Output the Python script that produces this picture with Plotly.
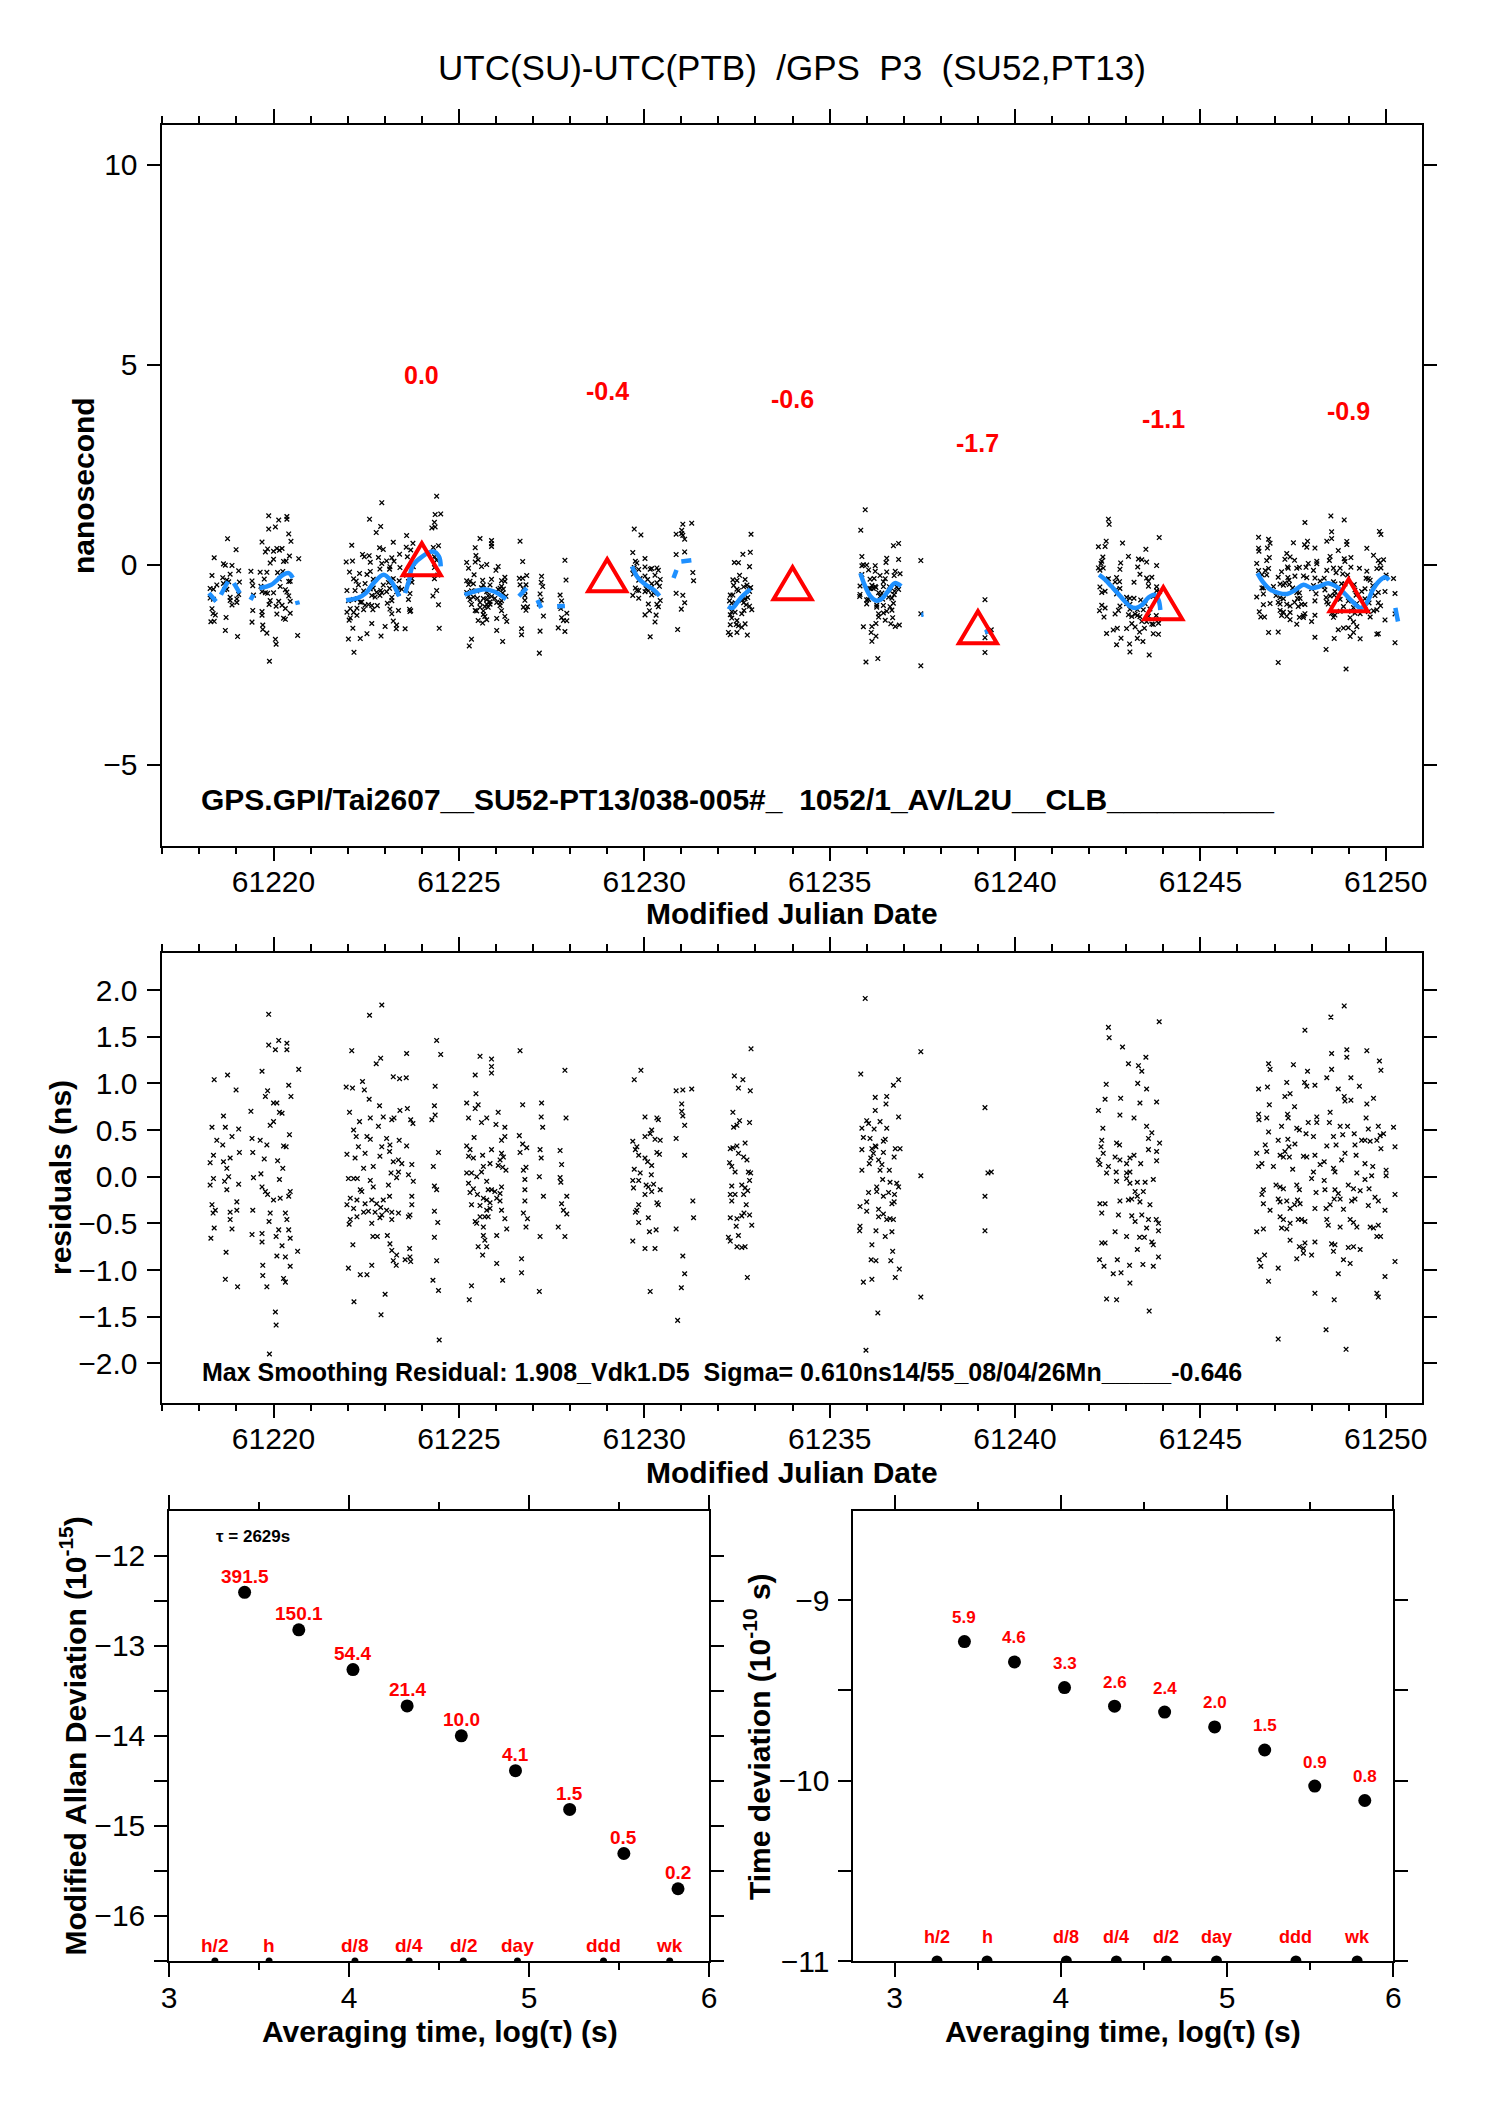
import numpy as np
import plotly.graph_objects as go

FONT = "Liberation Sans, Arial, Helvetica, sans-serif"
W, H = 1488, 2105

# ---------------- residuals (MJD, ns) per data cluster ----------------
res_a = [[61219.87,1.74],[61219.87,1.41],[61220.05,1.36],[61220.14,1.46],[61220.36,1.43],[61220.36,1.36],[61219.69,1.13],[61220.68,1.15],[61218.40,1.04],[61218.76,1.09],[61218.99,0.93],[61219.84,0.92],[61219.78,0.86],[61220.41,0.98],[61220.47,0.86],[61220.00,0.79],[61220.09,0.79],[61220.16,0.69],[61220.23,0.68],[61219.39,0.70],[61218.65,0.65],[61219.91,0.55],[61220.00,0.59],[61218.34,0.53],[61218.70,0.53],[61218.88,0.43],[61219.06,0.51],[61218.47,0.39],[61218.63,0.34],[61219.42,0.41],[61219.64,0.39],[61219.82,0.34],[61220.27,0.33],[61220.34,0.32],[61220.43,0.45],[61219.08,0.26],[61219.44,0.26],[61218.38,0.23],[61218.83,0.20],[61218.65,0.16],[61218.29,0.15],[61219.75,0.19],[61220.11,0.17],[61218.74,0.09],[61220.25,0.09],[61218.79,0.00],[61219.66,0.03],[61219.46,-0.01],[61220.16,-0.03],[61218.38,-0.02],[61218.29,-0.09],[61218.68,-0.05],[61219.06,-0.08],[61218.74,-0.14],[61219.69,-0.11],[61219.78,-0.16],[61219.84,-0.19],[61220.00,-0.25],[61220.18,-0.23],[61220.45,-0.16],[61220.41,-0.21],[61219.01,-0.27],[61218.34,-0.30],[61218.43,-0.36],[61218.83,-0.38],[61219.01,-0.36],[61219.44,-0.36],[61219.91,-0.39],[61220.32,-0.39],[61218.37,-0.39],[61218.83,-0.46],[61219.88,-0.48],[61220.36,-0.46],[61218.88,-0.56],[61218.40,-0.55],[61220.14,-0.57],[61220.41,-0.57],[61218.31,-0.66],[61219.42,-0.62],[61219.69,-0.61],[61220.07,-0.64],[61220.45,-0.66],[61219.69,-0.70],[61220.23,-0.74],[61218.72,-0.81],[61220.65,-0.80],[61220.09,-0.85],[61220.32,-0.86],[61219.71,-0.95],[61220.45,-0.96],[61218.70,-1.10],[61219.03,-1.18],[61219.71,-1.06],[61219.82,-1.18],[61220.32,-1.13],[61220.27,-1.09],[61220.05,-1.45],[61220.07,-1.59],[61219.89,-1.90]]
res_b = [[61222.92,1.84],[61222.59,1.73],[61222.11,1.35],[61223.59,1.32],[61224.40,1.46],[61224.51,1.31],[61222.89,1.27],[61222.77,1.21],[61223.23,1.07],[61223.40,1.05],[61223.58,1.06],[61222.40,1.02],[61221.96,0.96],[61222.13,0.95],[61222.45,0.93],[61224.36,0.97],[61222.58,0.83],[61222.86,0.76],[61223.41,0.71],[61223.61,0.73],[61224.34,0.76],[61222.05,0.69],[61222.32,0.59],[61222.61,0.63],[61222.96,0.64],[61223.19,0.61],[61223.25,0.63],[61223.70,0.61],[61223.76,0.57],[61224.27,0.61],[61224.36,0.66],[61222.83,0.54],[61222.16,0.50],[61222.23,0.43],[61222.52,0.43],[61222.61,0.40],[61223.05,0.41],[61223.39,0.39],[61223.59,0.33],[61222.92,0.32],[61223.14,0.34],[61223.13,0.27],[61222.29,0.32],[61222.47,0.25],[61221.98,0.24],[61222.20,0.20],[61222.87,0.22],[61223.23,0.16],[61223.37,0.18],[61223.46,0.14],[61223.73,0.13],[61224.45,0.26],[61224.31,0.11],[61222.43,0.09],[61222.69,0.11],[61223.17,0.04],[61223.37,0.05],[61223.64,0.02],[61222.02,-0.02],[61222.16,-0.02],[61222.26,-0.02],[61222.61,-0.04],[61223.32,-0.01],[61223.77,-0.05],[61223.10,-0.09],[61224.34,-0.10],[61224.40,-0.14],[61222.34,-0.14],[61222.69,-0.11],[61222.07,-0.23],[61222.25,-0.25],[61222.38,-0.16],[61222.47,-0.29],[61222.65,-0.25],[61222.78,-0.29],[61222.89,-0.33],[61222.96,-0.25],[61223.13,-0.21],[61223.73,-0.21],[61221.98,-0.30],[61222.16,-0.34],[61222.43,-0.38],[61222.56,-0.37],[61222.74,-0.38],[61222.92,-0.41],[61223.05,-0.36],[61223.19,-0.38],[61223.37,-0.39],[61223.68,-0.41],[61223.73,-0.30],[61223.64,-0.43],[61222.07,-0.46],[61222.25,-0.43],[61222.65,-0.50],[61222.87,-0.44],[61223.19,-0.46],[61222.04,-0.51],[61224.34,-0.37],[61224.43,-0.49],[61222.68,-0.64],[61222.80,-0.64],[61223.07,-0.63],[61223.14,-0.72],[61223.19,-0.79],[61223.32,-0.84],[61223.67,-0.77],[61222.14,-0.73],[61224.34,-0.65],[61223.23,-0.90],[61223.31,-0.95],[61223.55,-0.89],[61223.68,-0.86],[61223.70,-0.91],[61222.02,-0.98],[61222.34,-1.05],[61222.52,-1.05],[61222.65,-0.95],[61223.01,-1.26],[61224.30,-1.11],[61224.45,-1.22],[61224.40,-0.90],[61222.17,-1.34],[61222.90,-1.48],[61224.47,-1.75]]
res_c = [[61225.57,1.29],[61225.88,1.26],[61225.88,1.18],[61225.88,1.11],[61225.44,1.09],[61226.65,1.35],[61227.86,1.14],[61225.46,0.89],[61225.21,0.79],[61225.52,0.77],[61225.44,0.73],[61226.72,0.77],[61227.23,0.79],[61225.26,0.63],[61225.75,0.63],[61226.06,0.69],[61227.22,0.64],[61225.61,0.58],[61226.00,0.56],[61226.24,0.53],[61227.26,0.53],[61227.89,0.63],[61225.41,0.42],[61226.15,0.39],[61226.24,0.43],[61226.63,0.44],[61225.21,0.33],[61225.30,0.29],[61225.88,0.29],[61225.64,0.23],[61226.15,0.25],[61226.72,0.35],[61226.83,0.31],[61226.65,0.26],[61227.19,0.29],[61227.22,0.20],[61227.73,0.28],[61225.26,0.22],[61225.39,0.20],[61226.11,0.18],[61226.20,0.21],[61225.66,0.11],[61225.84,0.14],[61226.06,0.12],[61226.18,0.10],[61226.27,0.07],[61226.74,0.07],[61226.81,0.10],[61227.77,0.13],[61225.21,0.04],[61225.34,0.04],[61225.48,0.00],[61225.61,0.05],[61225.75,-0.05],[61227.17,0.00],[61226.78,-0.03],[61227.73,-0.01],[61227.75,-0.06],[61225.26,-0.07],[61225.39,-0.13],[61225.30,-0.17],[61225.50,-0.19],[61225.79,-0.14],[61225.88,-0.14],[61225.97,-0.16],[61226.11,-0.18],[61226.15,-0.11],[61226.78,-0.14],[61225.66,-0.23],[61225.75,-0.25],[61225.84,-0.28],[61226.02,-0.23],[61226.11,-0.26],[61226.78,-0.26],[61227.28,-0.21],[61227.91,-0.21],[61225.34,-0.30],[61225.57,-0.31],[61225.75,-0.36],[61225.84,-0.34],[61226.15,-0.36],[61227.77,-0.29],[61227.82,-0.36],[61227.91,-0.40],[61226.74,-0.39],[61225.44,-0.48],[61225.48,-0.50],[61225.57,-0.43],[61225.70,-0.43],[61225.79,-0.43],[61226.24,-0.45],[61226.85,-0.45],[61225.66,-0.54],[61226.81,-0.54],[61227.68,-0.54],[61226.29,-0.56],[61226.02,-0.63],[61225.66,-0.63],[61225.70,-0.68],[61225.52,-0.75],[61225.75,-0.75],[61227.19,-0.64],[61227.86,-0.64],[61225.64,-0.84],[61226.69,-0.88],[61226.02,-0.93],[61226.69,-1.03],[61226.18,-1.11],[61225.34,-1.17],[61225.28,-1.32],[61227.17,-1.23]]
res_d = [[61229.91,1.14],[61229.73,1.04],[61230.02,0.64],[61230.34,0.63],[61230.38,0.61],[61230.20,0.50],[61230.16,0.46],[61230.02,0.43],[61230.29,0.40],[61230.43,0.39],[61229.69,0.38],[61229.80,0.32],[61229.76,0.29],[61229.85,0.23],[61230.34,0.26],[61230.41,0.24],[61230.02,0.20],[61230.09,0.16],[61230.20,0.12],[61229.73,0.08],[61229.89,0.04],[61230.19,0.02],[61229.69,-0.04],[61229.85,-0.04],[61230.05,-0.09],[61230.25,-0.08],[61229.71,-0.12],[61230.11,-0.11],[61230.43,-0.14],[61230.02,-0.19],[61230.20,-0.16],[61230.34,-0.28],[61230.38,-0.30],[61229.85,-0.30],[61229.80,-0.36],[61229.76,-0.38],[61230.11,-0.44],[61229.85,-0.49],[61230.14,-0.59],[61230.32,-0.57],[61229.69,-0.69],[61230.02,-0.77],[61230.29,-0.77],[61230.16,-1.23],[61230.86,0.92],[61231.04,0.93],[61231.28,0.94],[61231.01,0.78],[61231.01,0.70],[61231.04,0.65],[61231.09,0.55],[61230.86,0.41],[61231.09,0.23],[61231.31,-0.26],[61231.33,-0.44],[61230.86,-0.56],[61231.04,-0.85],[61231.09,-1.04],[61231.00,-1.19],[61230.90,-1.54]]
res_e = [[61232.88,1.37],[61232.43,1.08],[61232.66,1.04],[61232.54,0.95],[61232.86,0.92],[61232.39,0.69],[61232.57,0.60],[61232.50,0.55],[61232.41,0.53],[61232.84,0.58],[61232.32,0.30],[61232.39,0.31],[61232.50,0.33],[61232.72,0.36],[61232.54,0.25],[61232.68,0.21],[61232.77,0.18],[61232.30,0.15],[61232.36,0.11],[61232.45,0.05],[61232.81,0.05],[61232.87,0.04],[61232.84,-0.04],[61232.36,-0.10],[61232.63,-0.09],[61232.72,-0.12],[61232.79,-0.15],[61232.32,-0.19],[61232.45,-0.19],[61232.68,-0.19],[61232.36,-0.26],[61232.75,-0.30],[61232.32,-0.44],[61232.50,-0.45],[61232.63,-0.42],[61232.69,-0.39],[61232.84,-0.41],[61232.90,-0.52],[61232.48,-0.53],[61232.54,-0.63],[61232.27,-0.65],[61232.32,-0.69],[61232.50,-0.75],[61232.63,-0.76],[61232.72,-0.75],[61232.78,-1.08]]
res_f = [[61235.96,1.91],[61235.84,1.10],[61236.23,0.85],[61236.54,0.86],[61236.52,0.78],[61236.72,0.98],[61236.86,1.04],[61236.23,0.71],[61236.00,0.60],[61236.05,0.57],[61236.36,0.59],[61236.86,0.64],[61235.87,0.52],[61236.20,0.51],[61236.54,0.52],[61235.91,0.42],[61236.09,0.41],[61236.23,0.33],[61236.45,0.38],[61236.50,0.40],[61236.14,0.30],[61236.25,0.32],[61236.77,0.30],[61236.90,0.30],[61235.87,0.29],[61236.74,0.21],[61236.18,0.25],[61236.11,0.20],[61236.32,0.18],[61236.45,0.26],[61236.07,0.14],[61236.41,0.13],[61235.87,0.07],[61236.36,0.07],[61236.61,0.07],[61236.43,-0.03],[61236.27,-0.11],[61236.63,-0.06],[61236.81,-0.07],[61236.86,-0.11],[61236.05,-0.17],[61236.27,-0.16],[61236.45,-0.21],[61236.59,-0.17],[61236.75,-0.19],[61236.00,-0.27],[61235.82,-0.32],[61236.00,-0.37],[61236.68,-0.29],[61236.74,-0.27],[61236.32,-0.35],[61236.32,-0.43],[61236.45,-0.40],[61236.54,-0.46],[61236.63,-0.45],[61236.72,-0.46],[61235.82,-0.53],[61235.81,-0.58],[61236.25,-0.58],[61236.50,-0.64],[61236.68,-0.59],[61236.14,-0.73],[61236.70,-0.80],[61236.12,-0.89],[61236.25,-0.90],[61236.65,-0.90],[61236.88,-0.99],[61236.77,-1.08],[61235.91,-1.13],[61236.14,-1.10],[61236.30,-1.46],[61235.98,-1.86]]
res_g = [[61237.46,1.34],[61237.46,0.01],[61237.46,-1.29],[61239.19,0.74],[61239.27,0.04],[61239.36,0.05],[61239.19,-0.21],[61239.19,-0.58]]
res_h = [[61242.52,1.60],[61242.54,1.49],[61243.89,1.66],[61242.90,1.39],[61243.06,1.21],[61243.33,1.19],[61243.53,1.28],[61243.42,1.13],[61242.46,0.99],[61243.31,1.00],[61243.55,0.94],[61242.43,0.83],[61242.85,0.84],[61243.37,0.79],[61243.82,0.80],[61242.25,0.71],[61242.83,0.66],[61243.21,0.63],[61242.37,0.52],[61243.55,0.54],[61243.69,0.47],[61243.60,0.41],[61242.34,0.39],[61242.74,0.36],[61242.82,0.34],[61242.32,0.32],[61243.90,0.36],[61242.38,0.25],[61242.70,0.21],[61242.83,0.18],[61243.10,0.20],[61243.21,0.23],[61243.01,0.14],[61243.39,0.14],[61242.25,0.18],[61242.29,0.13],[61242.52,0.11],[61242.47,0.04],[61242.73,0.05],[61243.01,0.04],[61243.10,0.05],[61243.60,0.29],[61243.82,0.27],[61243.82,0.17],[61242.74,-0.05],[61243.01,-0.02],[61243.10,-0.07],[61243.30,-0.06],[61243.51,-0.06],[61243.73,-0.03],[61243.24,-0.16],[61243.46,-0.16],[61242.29,-0.29],[61242.43,-0.29],[61242.34,-0.39],[61242.83,-0.26],[61243.06,-0.25],[61243.15,-0.24],[61243.30,-0.21],[61243.37,-0.27],[61243.64,-0.30],[61242.79,-0.41],[61243.15,-0.42],[61243.24,-0.48],[61243.42,-0.41],[61243.60,-0.46],[61243.81,-0.46],[61243.87,-0.50],[61243.55,-0.55],[61243.87,-0.58],[61242.70,-0.59],[61243.01,-0.64],[61243.36,-0.65],[61243.49,-0.65],[61243.69,-0.70],[61243.73,-0.73],[61242.34,-0.71],[61242.43,-0.71],[61243.30,-0.78],[61243.87,-0.86],[61242.28,-0.89],[61242.40,-0.96],[61242.76,-0.89],[61243.09,-0.95],[61243.45,-0.94],[61243.73,-0.96],[61242.65,-1.04],[61242.86,-1.03],[61243.10,-1.14],[61242.47,-1.31],[61242.74,-1.32],[61243.62,-1.44]]
res_i = [[61248.88,1.83],[61248.52,1.71],[61247.82,1.57],[61248.54,1.32],[61248.95,1.36],[61248.95,1.28],[61249.49,1.35],[61249.83,1.24],[61249.87,1.14],[61246.84,1.21],[61246.88,1.15],[61247.51,1.20],[61247.89,1.13],[61248.41,1.06],[61248.54,1.15],[61249.06,1.06],[61249.29,0.97],[61246.57,0.94],[61246.81,0.96],[61247.33,1.01],[61247.81,1.01],[61247.87,0.97],[61248.09,0.98],[61247.42,0.89],[61247.28,0.86],[61248.72,0.94],[61248.88,0.86],[61248.90,0.81],[61249.06,0.82],[61249.67,0.84],[61249.49,0.78],[61246.86,0.77],[61247.54,0.75],[61246.57,0.67],[61246.58,0.61],[61246.79,0.63],[61247.35,0.67],[61247.37,0.63],[61248.14,0.64],[61248.14,0.58],[61248.50,0.69],[61248.48,0.58],[61249.47,0.63],[61247.91,0.58],[61246.84,0.48],[61247.19,0.54],[61247.60,0.52],[61247.67,0.50],[61247.85,0.46],[61248.05,0.43],[61248.77,0.54],[61248.97,0.54],[61248.84,0.45],[61248.59,0.43],[61249.15,0.46],[61249.53,0.51],[61249.80,0.54],[61250.21,0.53],[61249.85,0.44],[61249.94,0.46],[61246.75,0.34],[61246.79,0.27],[61247.10,0.39],[61247.36,0.40],[61247.55,0.35],[61247.39,0.32],[61247.28,0.27],[61248.41,0.33],[61248.66,0.34],[61249.17,0.34],[61249.35,0.39],[61249.44,0.39],[61249.58,0.38],[61249.76,0.39],[61249.87,0.30],[61250.25,0.32],[61246.52,0.25],[61246.57,0.11],[61246.66,0.14],[61246.97,0.11],[61247.15,0.23],[61247.24,0.21],[61247.40,0.21],[61247.49,0.08],[61247.78,0.22],[61247.87,0.21],[61248.09,0.23],[61248.05,0.05],[61248.23,0.13],[61248.34,0.16],[61248.81,0.18],[61248.90,0.25],[61249.20,0.23],[61249.44,0.14],[61249.65,0.11],[61250.01,0.07],[61248.00,-0.02],[61248.34,-0.04],[61248.59,0.09],[61248.63,0.05],[61249.22,0.04],[61249.44,-0.03],[61249.62,0.01],[61250.01,0.01],[61246.70,-0.14],[61246.66,-0.19],[61247.04,-0.09],[61247.15,-0.11],[61247.24,-0.13],[61247.60,-0.09],[61247.67,-0.14],[61248.12,-0.17],[61248.36,-0.14],[61248.63,-0.14],[61248.72,-0.18],[61248.99,-0.09],[61249.13,-0.13],[61249.31,-0.15],[61249.55,-0.13],[61250.25,-0.19],[61246.70,-0.29],[61246.88,-0.36],[61247.10,-0.24],[61247.15,-0.27],[61247.33,-0.26],[61247.62,-0.25],[61247.42,-0.34],[61247.54,-0.30],[61247.69,-0.29],[61248.09,-0.34],[61248.39,-0.34],[61248.50,-0.30],[61248.61,-0.24],[61248.77,-0.24],[61248.86,-0.35],[61249.08,-0.26],[61249.17,-0.24],[61249.53,-0.31],[61249.71,-0.22],[61249.80,-0.26],[61249.98,-0.36],[61247.15,-0.43],[61247.24,-0.46],[61247.64,-0.46],[61247.73,-0.46],[61247.82,-0.48],[61247.42,-0.50],[61248.41,-0.46],[61248.45,-0.52],[61248.77,-0.54],[61249.04,-0.46],[61249.13,-0.49],[61249.22,-0.54],[61249.58,-0.54],[61249.67,-0.55],[61249.80,-0.52],[61246.52,-0.59],[61246.70,-0.56],[61247.19,-0.55],[61247.33,-0.56],[61249.76,-0.64],[61249.86,-0.64],[61247.42,-0.68],[61247.67,-0.75],[61247.78,-0.77],[61247.82,-0.71],[61248.09,-0.70],[61248.54,-0.72],[61248.63,-0.73],[61248.99,-0.76],[61249.13,-0.75],[61249.31,-0.78],[61248.59,-0.80],[61247.78,-0.82],[61248.00,-0.84],[61247.60,-0.88],[61248.86,-0.89],[61249.04,-0.93],[61246.59,-0.89],[61246.63,-0.96],[61246.73,-0.84],[61247.10,-0.98],[61250.25,-0.91],[61248.72,-1.04],[61246.84,-1.12],[61249.98,-1.07],[61248.09,-1.25],[61248.61,-1.32],[61249.76,-1.25],[61249.80,-1.29],[61248.39,-1.64],[61247.10,-1.74],[61248.93,-1.85]]

# ---------------- smoothing curve (ns), None = gap ----------------
smooth_mjd = [61218.26,61218.45,None,61218.58,61218.77,None,61218.93,61219.09,None,61219.38,61219.46,None,
              61219.62,61219.94,61220.26,61220.41,61220.52,None,61220.63,61220.66,None,
              61221.96,61222.28,61222.49,61222.70,61222.97,61223.18,61223.39,None,
              61223.55,61223.66,61223.77,61224.30,61224.46,61224.51,None,
              61225.15,61225.41,61225.68,61225.95,61226.27,None,61226.62,61226.83,None,
              61227.12,61227.22,None,61227.65,61227.86,None,
              61229.67,61229.83,61230.04,61230.26,61230.41,None,61230.79,61230.87,None,61231.00,61231.27,None,
              61232.26,61232.38,61232.60,61232.86,None,
              61235.83,61235.94,61236.10,61236.27,61236.43,61236.60,61236.76,61236.93,None,
              61237.47,61237.53,None,61239.22,61239.27,None,
              61242.27,61242.44,61242.60,61242.77,61242.93,61243.10,61243.26,61243.43,61243.59,61243.76,61243.87,61243.92,None,
              61246.54,61246.68,61246.90,61247.12,61247.34,61247.56,61247.78,61248.00,61248.22,61248.44,61248.66,
              61248.88,61249.10,61249.32,61249.48,61249.65,61249.81,61249.98,61250.09,None,61250.26,61250.33]
smooth_val = [-0.71,-0.92,None,-0.75,-0.42,None,-0.46,-0.71,None,-0.88,-0.75,None,
              -0.58,-0.50,-0.25,-0.21,-0.33,None,-0.90,-1.00,None,
              -0.89,-0.83,-0.71,-0.46,-0.25,-0.42,-0.79,None,
              -0.71,-0.38,0.00,0.33,0.21,-0.04,None,
              -0.75,-0.67,-0.61,-0.67,-0.86,None,-0.79,-0.58,None,
              -0.88,-1.08,None,-1.04,-1.03,None,
              -0.04,-0.33,-0.50,-0.63,-0.78,None,-0.33,-0.13,None,0.08,0.11,None,
              -1.04,-1.08,-0.83,-0.61,None,
              -0.21,-0.50,-0.79,-0.90,-0.83,-0.63,-0.46,-0.54,None,
              -1.25,-1.25,None,-1.62,-1.72,None,
              -0.25,-0.38,-0.54,-0.71,-0.88,-1.04,-1.08,-1.00,-0.83,-0.75,-0.88,-1.13,None,
              -0.21,-0.42,-0.63,-0.71,-0.73,-0.63,-0.50,-0.58,-0.54,-0.46,-0.54,
              -0.71,-0.92,-1.08,-0.96,-0.63,-0.42,-0.31,-0.38,None,-1.08,-1.42]

# ---------------- 5-day means ----------------
tri_mjd = [61224, 61229, 61234, 61239, 61244, 61249]
tri_val = [0.0, -0.4, -0.6, -1.7, -1.1, -0.9]
tri_lbl = ["0.0", "-0.4", "-0.6", "-1.7", "-1.1", "-0.9"]

# ---------------- stability ----------------
log_tau = [3.420, 3.721, 4.022, 4.323, 4.624, 4.925, 5.226, 5.527, 5.828]
mdev_log = [-12.407, -12.824, -13.266, -13.670, -14.002, -14.389, -14.820, -15.310, -15.702]
mdev_lbl = ["391.5", "150.1", "54.4", "21.4", "10.0", "4.1", "1.5", "0.5", "0.2"]
tdev_log = [-9.229, -9.342, -9.484, -9.587, -9.620, -9.702, -9.830, -10.030, -10.110]
tdev_lbl = ["5.9", "4.6", "3.3", "2.6", "2.4", "2.0", "1.5", "0.9", "0.8"]
intv_lbl = ["h/2", "h", "d/8", "d/4", "d/2", "day", "ddd", "wk"]
intv_log_tau = [3.255, 3.556, 4.033, 4.334, 4.635, 4.936, 5.414, 5.782]

MJD_RANGE = [61217.0, 61250.97]
Y1_RANGE = [-7.02, 11.0]
Y2_RANGE = [-2.42, 2.395]
Y3_RANGE = [-16.505, -11.503]
Y4_RANGE = [-11.0, -8.505]

# ---------------- derived ----------------
res_all = res_a + res_b + res_c + res_d + res_e + res_f + res_g + res_h + res_i
r_mjd = np.array([p[0] for p in res_all])
r_val = np.array([p[1] for p in res_all])
sm_x = np.array([x for x, v in zip(smooth_mjd, smooth_val) if x is not None])
sm_y = np.array([v for x, v in zip(smooth_mjd, smooth_val) if x is not None])
raw_val = np.interp(r_mjd, sm_x, sm_y) + r_val

BLACK = "black"
RED = "#ff0000"
BLUE = "#1e90ff"

fig = go.Figure()
xm = dict(symbol="x-thin", size=4.6, color=BLACK, line=dict(width=1.3, color=BLACK))
fig.add_trace(go.Scatter(x=r_mjd, y=raw_val, mode="markers", marker=xm, xaxis="x", yaxis="y"))
fig.add_trace(go.Scatter(x=smooth_mjd, y=smooth_val, mode="lines", connectgaps=False,
                         line=dict(color=BLUE, width=4.5, shape="spline"), xaxis="x", yaxis="y"))
fig.add_trace(go.Scatter(x=r_mjd, y=r_val, mode="markers", marker=xm, xaxis="x2", yaxis="y2"))

fig.add_trace(go.Scatter(x=log_tau, y=mdev_log, mode="markers",
                         marker=dict(symbol="circle", size=13, color=BLACK), xaxis="x3", yaxis="y3"))
fig.add_trace(go.Scatter(x=intv_log_tau, y=[Y3_RANGE[0]] * len(intv_log_tau), mode="markers",
                         marker=dict(symbol="circle", size=7, color=BLACK), xaxis="x3", yaxis="y3"))
fig.add_trace(go.Scatter(x=log_tau, y=tdev_log, mode="markers",
                         marker=dict(symbol="circle", size=13, color=BLACK), xaxis="x4", yaxis="y4"))
fig.add_trace(go.Scatter(x=intv_log_tau, y=[Y4_RANGE[0]] * len(intv_log_tau), mode="markers",
                         marker=dict(symbol="circle", size=11, color=BLACK), xaxis="x4", yaxis="y4"))

# open red triangles (pixel-sized, anchored at each 5-day mean)
shapes = []
for xv, yv in zip(tri_mjd, tri_val):
    shapes.append(dict(type="path", xref="x", yref="y", xsizemode="pixel", ysizemode="pixel",
                       xanchor=xv, yanchor=yv, path="M-19,-10.5 L19,-10.5 L0,21.5 Z",
                       line=dict(color=RED, width=4), fillcolor="rgba(0,0,0,0)", layer="above"))

def axis(**kw):
    d = dict(showline=True, linecolor=BLACK, linewidth=1.5, mirror="allticks", ticks="outside",
             tickcolor=BLACK, tickwidth=1.5, showgrid=False, zeroline=False, automargin=False,
             tickfont=dict(family=FONT, size=30, color=BLACK))
    d.update(kw)
    return d

def minor(dt, ln):
    return dict(dtick=dt, ticklen=ln, ticks="outside", tickcolor=BLACK, tickwidth=1.5, showgrid=False)

def px(x):
    return x / W

def py(y):
    return 1 - y / H

XSO = -5   # x tick label standoff
YSO = 3    # y tick label standoff

fig.update_layout(
    width=W, height=H, autosize=False, showlegend=False,
    margin=dict(l=0, r=0, t=0, b=0),
    paper_bgcolor="white", plot_bgcolor="white",
    shapes=shapes,
    xaxis=axis(domain=[px(162.3), px(1421.7)], range=MJD_RANGE, tick0=61220, dtick=5, ticklen=14,
               tickformat="d", minor=minor(1, 7), anchor="y", ticklabelstandoff=XSO),
    yaxis=axis(domain=[py(845.5), py(124.8)], range=Y1_RANGE, tick0=0, dtick=5, ticklen=14, anchor="x",
               ticklabelstandoff=YSO),
    xaxis2=axis(domain=[px(162.3), px(1421.7)], range=MJD_RANGE, tick0=61220, dtick=5, ticklen=14,
                tickformat="d", minor=minor(1, 7), anchor="y2", ticklabelstandoff=XSO),
    yaxis2=axis(domain=[py(1402.5), py(953.2)], range=Y2_RANGE, tick0=0, dtick=0.5, ticklen=14,
                tickformat=".1f", anchor="x2", ticklabelstandoff=YSO),
    xaxis3=axis(domain=[px(169), px(709)], range=[2.9999, 6.0001], tick0=3, dtick=1, ticklen=14,
                minor=minor(0.5, 7), anchor="y3", ticklabelstandoff=XSO),
    yaxis3=axis(domain=[py(1961), py(1511)], range=Y3_RANGE, tick0=-16, dtick=1, ticklen=13,
                minor=minor(0.5, 13), anchor="x3", ticklabelstandoff=YSO),
    xaxis4=axis(domain=[px(853.2), px(1393.4)], range=[2.751, 6.0001], tick0=3, dtick=1, ticklen=14,
                minor=minor(0.5, 7), anchor="y4", ticklabelstandoff=XSO),
    yaxis4=axis(domain=[py(1961), py(1511)], range=Y4_RANGE, tick0=-11, dtick=1, ticklen=13,
                minor=minor(0.5, 13), anchor="x4", ticklabelstandoff=YSO),
)

ann = []
def text(x, y, s, size, bold=True, color=BLACK, xanchor="center", yanchor="middle", angle=0, **kw):
    d = dict(x=x, y=y, xref="paper", yref="paper", text=s, showarrow=False, xanchor=xanchor,
             yanchor=yanchor, textangle=angle,
             font=dict(family=FONT, size=size, color=color, weight="bold" if bold else "normal"))
    d.update(kw)
    ann.append(d)

NB = "\u00a0"
text(px(792), py(67), f"UTC(SU)-UTC(PTB){NB}{NB}/GPS{NB}{NB}P3{NB}{NB}(SU52,PT13)", 35, bold=False)
text(px(199), py(800), f"GPS.GPI/Tai2607__SU52-PT13/038-005#_{NB}{NB}1052/1_AV/L2U__CLB__________", 30,
     xanchor="left")
text(px(200), py(1372), f"Max Smoothing Residual: 1.908_Vdk1.D5{NB}{NB}Sigma= 0.610ns14/55_08/04/26Mn_____-0.646",
     25, xanchor="left")
text(px(214), py(1536), "τ = 2629s", 17, xanchor="left")

text(px(792), py(913), "Modified Julian Date", 30)
text(px(792), py(1472), "Modified Julian Date", 30)
text(px(83), py(486), "nanosecond", 30, angle=-90)
text(px(60), py(1178), "residuals (ns)", 30, angle=-90)
text(px(439.5), py(2031), "Averaging time, log(τ) (s)", 30)
text(px(1123), py(2031), "Averaging time, log(τ) (s)", 30)
text(px(73.5), py(1736), "Modified Allan Deviation (10<sup>-15</sup>)", 30, angle=-90)
text(px(757), py(1737), "Time deviation (10<sup>-10</sup> s)", 30, angle=-90)

def red(x, y, xref, yref, s, size, shift):
    ann.append(dict(x=x, y=y, xref=xref, yref=yref, text=s, showarrow=False, xanchor="center",
                    yanchor="middle", yshift=shift,
                    font=dict(family=FONT, size=size, color=RED, weight="bold")))

for xv, yv, s in zip(tri_mjd, tri_val, tri_lbl):
    red(xv, yv + 4.75, "x", "y", s, 25, 0)
for xv, yv, s in zip(log_tau, mdev_log, mdev_lbl):
    red(xv, yv, "x3", "y3", s, 19, 16)
for xv, yv, s in zip(log_tau, tdev_log, tdev_lbl):
    red(xv, yv, "x4", "y4", s, 17, 24)
for xv, s in zip(intv_log_tau, intv_lbl):
    red(xv, 0, "x3", "y3 domain", s, 19, 16)
    red(xv, 0, "x4", "y4 domain", s, 18, 24)

fig.update_layout(annotations=ann)
fig.write_html("out.html", config={"displayModeBar": False},
               post_script="document.body.style.margin='0px';document.body.style.overflow='hidden';")
